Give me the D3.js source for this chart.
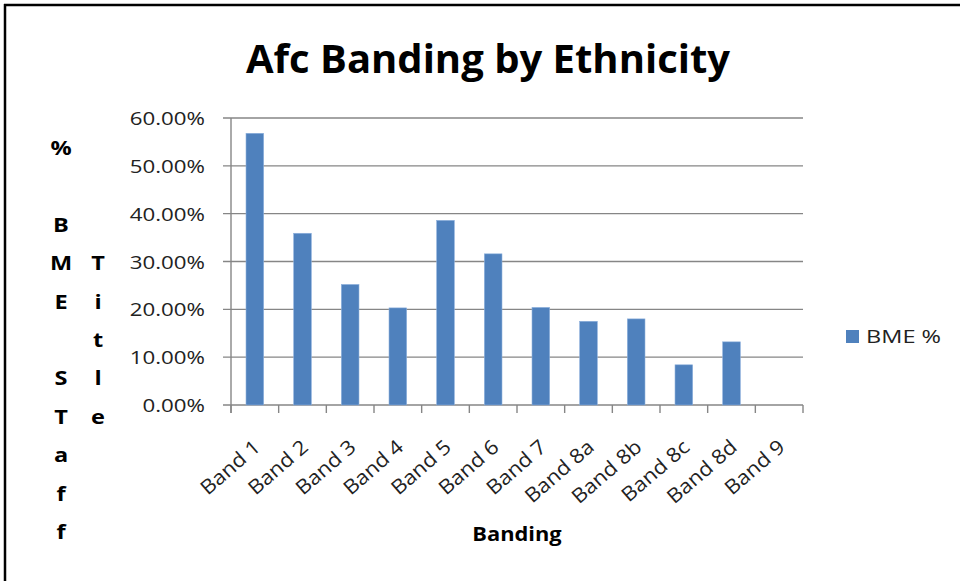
<!DOCTYPE html>
<html>
<head>
<meta charset="utf-8">
<script src="https://cdn.jsdelivr.net/npm/d3@7"></script>
<style>
  body { margin: 0; background: #fff; }
  svg { display: block; font-family: "Open Sans", sans-serif; }
</style>
</head>
<body>
<svg width="960" height="581"></svg>
<script>
// data
const bands = ['Band 1', 'Band 2', 'Band 3', 'Band 4', 'Band 5', 'Band 6',
               'Band 7', 'Band 8a', 'Band 8b', 'Band 8c', 'Band 8d', 'Band 9'];
const bmePct = [0.568, 0.359, 0.252, 0.203, 0.386, 0.316,
                0.204, 0.175, 0.180, 0.084, 0.132, 0];
const yTicks = [0, 0.1, 0.2, 0.3, 0.4, 0.5, 0.6];
const yTitleLeft = ['%', '', 'B', 'M', 'E', '', 'S', 'T', 'a', 'f', 'f'];
const yTitleRight = ['', '', '', 'T', 'i', 't', 'l', 'e'];
const seriesName = 'BME %';

// plot box
const plotL = 231, plotR = 803, plotT = 118, plotB = 405;
const sx = 1.24; // reference text is stretched sideways
const grey = '#868686';
const blue = '#4F81BD';

const svg = d3.select('svg');

// frame (top + left edge only)
svg.append('line').attr('x1', 4).attr('x2', 960).attr('y1', 5).attr('y2', 5)
  .attr('stroke', '#000').attr('stroke-width', 2.5);
svg.append('line').attr('x1', 5).attr('x2', 5).attr('y1', 4).attr('y2', 581)
  .attr('stroke', '#000').attr('stroke-width', 2.5);

const x = d3.scaleBand().domain(bands).range([plotL, plotR])
  .paddingInner(0.63).paddingOuter(0.315);
const y = d3.scaleLinear().domain([0, 0.6]).range([plotB, plotT]);

// helper for stretched text
function stext(parent, tx, ty, str, k) {
  return parent.append('text')
    .attr('transform', 'translate(' + tx + ',' + ty + ') scale(' + (k || sx) + ',1)')
    .text(str);
}

// gridlines
svg.append('g').selectAll('line')
  .data(yTicks).enter()
  .append('line')
  .attr('x1', plotL - 8).attr('x2', plotR)
  .attr('y1', d => y(d)).attr('y2', d => y(d))
  .attr('stroke', grey).attr('stroke-width', 1.4);

// y axis line
svg.append('line').attr('x1', plotL).attr('x2', plotL).attr('y1', plotT).attr('y2', plotB + 8)
  .attr('stroke', grey).attr('stroke-width', 1.4);

// x ticks at category boundaries
const step = x.step();
svg.append('g').selectAll('line')
  .data(d3.range(bands.length + 1)).enter()
  .append('line')
  .attr('x1', i => plotL + i * step).attr('x2', i => plotL + i * step)
  .attr('y1', plotB).attr('y2', plotB + 8)
  .attr('stroke', grey).attr('stroke-width', 1.4);

// bars
svg.append('g').selectAll('rect')
  .data(bands).enter()
  .append('rect')
  .attr('x', d => x(d))
  .attr('width', x.bandwidth())
  .attr('y', (d, i) => y(bmePct[i]))
  .attr('height', (d, i) => y(0) - y(bmePct[i]))
  .attr('fill', blue)
  .attr('stroke', '#8db0dc').attr('stroke-width', 0.6);

// y tick labels
const fmt = d3.format('.2%');
const yl = svg.append('g').attr('font-size', 18).attr('fill', '#222').attr('text-anchor', 'end');
yTicks.forEach(t => {
  stext(yl, 205, y(t) + 7, fmt(t));
});

// x tick labels, rotated
const xl = svg.append('g').attr('font-size', 20).attr('fill', '#222').attr('text-anchor', 'end');
bands.forEach(b => {
  xl.append('text')
    .attr('transform', 'translate(' + (x(b) + x.bandwidth() / 2 + 7) + ',' + (plotB + 44) + ') rotate(-41) scale(1.1,1)')
    .text(b);
});

// title
const tt = svg.append('g').attr('font-size', 40).attr('font-weight', 700).attr('text-anchor', 'middle').attr('fill', '#000');
stext(tt, 488, 73, 'Afc Banding by Ethnicity', 1);

// x axis title
const xt = svg.append('g').attr('font-size', 19).attr('font-weight', 700).attr('text-anchor', 'middle').attr('fill', '#000');
stext(xt, 517, 541, 'Banding', 1.15);

// y axis title, stacked letters
const yt = svg.append('g').attr('font-size', 19).attr('font-weight', 700).attr('text-anchor', 'middle').attr('fill', '#000');
yTitleLeft.forEach((c, i) => { if (c) stext(yt, 61, 155 + i * 38.4, c); });
yTitleRight.forEach((c, i) => { if (c) stext(yt, 98, 155 + i * 38.4, c); });

// legend
svg.append('rect').attr('x', 846).attr('y', 330).attr('width', 13).attr('height', 13).attr('fill', blue);
const lg = svg.append('g').attr('font-size', 19).attr('fill', '#222');
stext(lg, 866, 343, seriesName);
</script>
</body>
</html>
